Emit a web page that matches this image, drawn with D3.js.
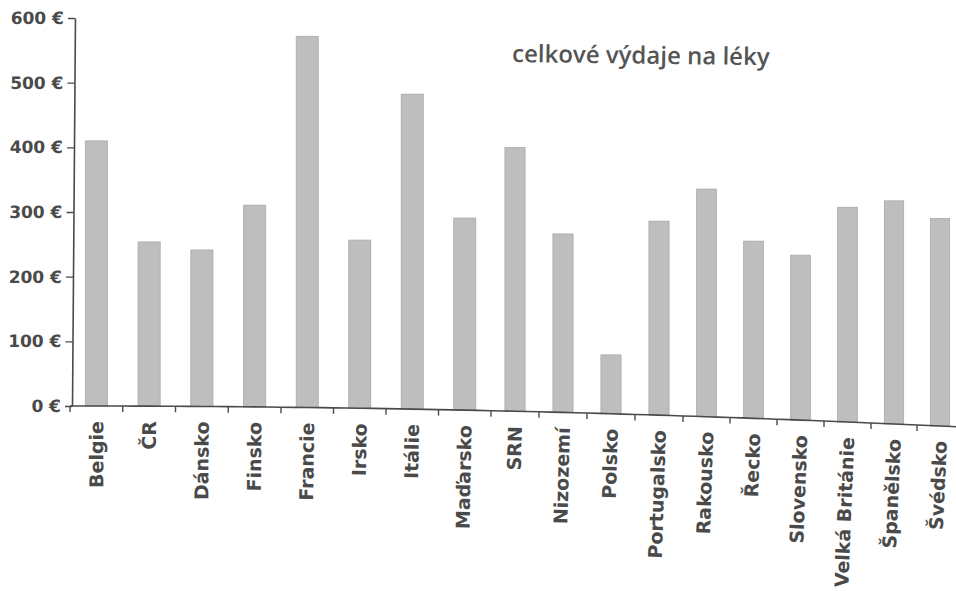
<!DOCTYPE html>
<html>
<head>
<meta charset="utf-8">
<script src="https://cdn.jsdelivr.net/npm/d3@7"></script>
<style>
  html, body { margin: 0; padding: 0; background: #ffffff; }
  svg { display: block; }
</style>
</head>
<body>
<svg id="chart" width="956" height="591"></svg>
<script>
// Total spending on medicines per inhabitant, by country (EUR)
const categories = ["Belgie", "ČR", "Dánsko", "Finsko", "Francie", "Irsko", "Itálie", "Maďarsko", "SRN",
  "Nizozemí", "Polsko", "Portugalsko", "Rakousko", "Řecko", "Slovensko", "Velká Británie", "Španělsko", "Švédsko"];
const spending = [410, 254, 242, 312, 574, 260, 487, 297, 408, 276, 91, 300, 352, 274, 255, 332, 345, 321];
const yTicks = [0, 100, 200, 300, 400, 500, 600];
const chartTitle = "celkové výdaje na léky";

const svg = d3.select("#chart");
const ink = "#4a4a4a";

// value axis
const y = d3.scaleLinear().domain([0, 600]).range([406, 18]);

// category bands on a unit grid, then spread across the printed page,
// which bends slightly (wider in the middle, narrower to the right)
const band = d3.scaleBand().domain(categories).range([0, categories.length])
  .paddingInner(0.58).paddingOuter(0.29);
const pageX = d3.scaleLinear().domain([0, 4, 8, 12, 16, 18]).range([70, 281, 491, 683, 871, 963]);
// the baseline sags downward towards the right edge of the sheet
const droop = d3.scalePow().exponent(2).domain([0, 870]).range([0, 20]);
const sag = px => droop(Math.max(0, px - 70));
const slopeDeg = px => Math.atan(2 * 20 / (870 * 870) * Math.max(0, px - 70)) * 180 / Math.PI;

// bars
const bars = categories.map((c, i) => {
  const x0 = pageX(band(c));
  const x1 = pageX(band(c) + band.bandwidth());
  const cx = (x0 + x1) / 2;
  return { c, v: spending[i], x0, x1, cx, s: sag(cx) };
});

svg.append("g")
  .selectAll("rect")
  .data(bars)
  .join("rect")
  .attr("x", d => d.x0)
  .attr("y", d => y(d.v) + d.s)
  .attr("width", d => d.x1 - d.x0)
  .attr("height", d => y(0) - y(d.v))
  .attr("fill", "#bebebe")
  .attr("stroke", "#a9a9a9")
  .attr("stroke-width", 0.8);

// category axis following the sagging baseline
const steps = d3.range(0, 18.001, 0.25).map(t => pageX(t)).concat([956]);
svg.append("path")
  .attr("d", d3.line()(steps.map(px => [px, y(0) + sag(px)])))
  .attr("fill", "none")
  .attr("stroke", ink)
  .attr("stroke-width", 1.6);

svg.append("g")
  .selectAll("line")
  .data(d3.range(0, categories.length + 1))
  .join("line")
  .attr("x1", j => pageX(j))
  .attr("x2", j => pageX(j))
  .attr("y1", j => y(0) + sag(pageX(j)))
  .attr("y2", j => y(0) + sag(pageX(j)) + 6)
  .attr("stroke", ink)
  .attr("stroke-width", 1.4);

svg.append("g")
  .selectAll("text")
  .data(bars)
  .join("text")
  .attr("transform", d => `translate(${d.cx},${y(0) + d.s + 15}) rotate(${-90 + slopeDeg(d.cx)})`)
  .attr("text-anchor", "end")
  .attr("dy", "0.36em")
  .attr("font-family", "DejaVu Sans, Verdana, sans-serif")
  .attr("font-weight", "bold")
  .attr("font-size", 19)
  .attr("fill", ink)
  .text(d => d.c);

// value axis, leaning slightly with the page
const yAxis = svg.append("g")
  .attr("transform", "translate(72,406) skewX(-0.44) translate(0,-406)")
  .call(d3.axisLeft(y).tickValues(yTicks).tickSize(7).tickSizeOuter(0).tickPadding(4)
    .tickFormat(d => `${d} €`));
yAxis.select(".domain").attr("stroke", ink).attr("stroke-width", 1.6);
yAxis.selectAll(".tick line").attr("stroke", ink).attr("stroke-width", 1.4);
yAxis.selectAll(".tick text")
  .attr("font-family", "DejaVu Sans, Verdana, sans-serif")
  .attr("font-weight", "bold")
  .attr("font-size", 17)
  .attr("fill", ink);

// chart title
svg.append("text")
  .attr("x", 512)
  .attr("y", 62)
  .attr("transform", "rotate(0.7,512,62)")
  .attr("font-family", "Open Sans, sans-serif")
  .attr("font-weight", 600)
  .attr("font-size", 24)
  .attr("fill", "#555555")
  .text(chartTitle);
</script>
</body>
</html>
